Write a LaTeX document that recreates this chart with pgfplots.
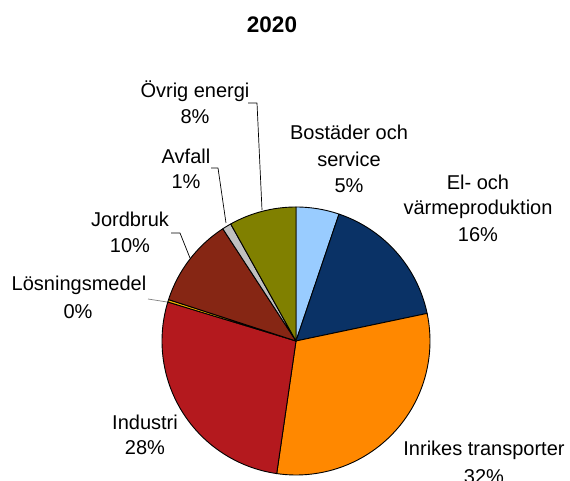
\documentclass[border=0pt]{standalone}
\usepackage{pgfplots}
\pgfplotsset{compat=1.18}
\usepackage{fontspec}
\setmainfont{Liberation Sans}
% shares (percent), clockwise from 12 o'clock
\def\vA{5.2}  % Bostäder och service
\def\vB{16.5} % El- och värmeproduktion
\def\vC{30.6} % Inrikes transporter
\def\vD{27.4} % Industri
\def\vE{0.3}  % Lösningsmedel
\def\vF{10.8} % Jordbruk
\def\vG{1.1}  % Avfall
\def\vH{8.1}  % Övrig energi
\pgfmathsetmacro\aA{90}
\pgfmathsetmacro\aB{\aA-3.6*\vA}
\pgfmathsetmacro\aC{\aB-3.6*\vB}
\pgfmathsetmacro\aD{\aC-3.6*\vC}
\pgfmathsetmacro\aE{\aD-3.6*\vD}
\pgfmathsetmacro\aF{\aE-3.6*\vE}
\pgfmathsetmacro\aG{\aF-3.6*\vF}
\pgfmathsetmacro\aH{\aG-3.6*\vG}
\pgfmathsetmacro\aI{\aH-3.6*\vH}
\definecolor{cA}{RGB}{153,204,255}
\definecolor{cB}{RGB}{10,50,102}
\definecolor{cC}{RGB}{255,136,0}
\definecolor{cD}{RGB}{180,25,30}
\definecolor{cE}{RGB}{240,176,0}
\definecolor{cF}{RGB}{134,38,20}
\definecolor{cG}{RGB}{192,192,192}
\definecolor{cH}{RGB}{128,128,0}
\def\cx{296}\def\cy{140}\def\rr{134}
\begin{document}
\begin{tikzpicture}
\useasboundingbox (0,0) rectangle (570pt,481pt);
\begin{axis}[at={(0,0)},anchor=south west,scale only axis,
  width=570pt,height=481pt,xmin=0,xmax=570,ymin=0,ymax=481,
  hide axis,clip=false,
  every axis plot/.append style={draw=black,line width=0.9pt,samples=60,variable=\t,line join=round}]
\addplot[fill=cA,domain=\aA:\aB] ({\cx+\rr*cos(t)},{\cy+\rr*sin(t)}) -- (axis cs:\cx,\cy) -- cycle;
\addplot[fill=cB,domain=\aB:\aC] ({\cx+\rr*cos(t)},{\cy+\rr*sin(t)}) -- (axis cs:\cx,\cy) -- cycle;
\addplot[fill=cC,domain=\aC:\aD] ({\cx+\rr*cos(t)},{\cy+\rr*sin(t)}) -- (axis cs:\cx,\cy) -- cycle;
\addplot[fill=cD,domain=\aD:\aE] ({\cx+\rr*cos(t)},{\cy+\rr*sin(t)}) -- (axis cs:\cx,\cy) -- cycle;
\addplot[fill=cE,domain=\aE:\aF,samples=3] ({\cx+\rr*cos(t)},{\cy+\rr*sin(t)}) -- (axis cs:\cx,\cy) -- cycle;
\addplot[fill=cF,domain=\aF:\aG] ({\cx+\rr*cos(t)},{\cy+\rr*sin(t)}) -- (axis cs:\cx,\cy) -- cycle;
\addplot[fill=cG,domain=\aG:\aH,samples=5] ({\cx+\rr*cos(t)},{\cy+\rr*sin(t)}) -- (axis cs:\cx,\cy) -- cycle;
\addplot[fill=cH,domain=\aH:\aI] ({\cx+\rr*cos(t)},{\cy+\rr*sin(t)}) -- (axis cs:\cx,\cy) -- cycle;
% leader lines
\addplot[draw=black,line width=0.7pt] coordinates {(248,378) (257,378) (262,271)};
\addplot[draw=black,line width=0.7pt] coordinates {(211,313) (218,313) (226,258)};
\addplot[draw=black,line width=0.7pt] coordinates {(171,248) (180,248) (190,223)};
\addplot[draw=gray,line width=0.7pt] coordinates {(148,182) (167,179)};
% labels
\begin{scope}[every node/.style={font=\fontsize{20}{24}\selectfont,inner sep=0pt}]
\node[font=\fontsize{22.5}{26}\selectfont\bfseries] at (axis cs:272,456) {2020};
\node at (axis cs:195,389.5) {Övrig energi};
\node at (axis cs:195,364.5) {8\%};
\node at (axis cs:186,324.5) {Avfall};
\node at (axis cs:186,299.5) {1\%};
\node at (axis cs:349,348.5) {Bostäder och};
\node at (axis cs:349,321.5) {service};
\node at (axis cs:349,295.5) {5\%};
\node at (axis cs:478,298.5) {El- och};
\node at (axis cs:478,272) {värmeproduktion};
\node at (axis cs:478,246) {16\%};
\node at (axis cs:130,262) {Jordbruk};
\node at (axis cs:130,235.5) {10\%};
\node at (axis cs:79,196) {Lösningsmedel};
\node at (axis cs:78,169.5) {0\%};
\node at (axis cs:145,58.5) {Industri};
\node at (axis cs:145,33) {28\%};
\node at (axis cs:484,31) {Inrikes transporter};
\node at (axis cs:484,4.5) {32\%};
\end{scope}
\end{axis}
\end{tikzpicture}
\end{document}
